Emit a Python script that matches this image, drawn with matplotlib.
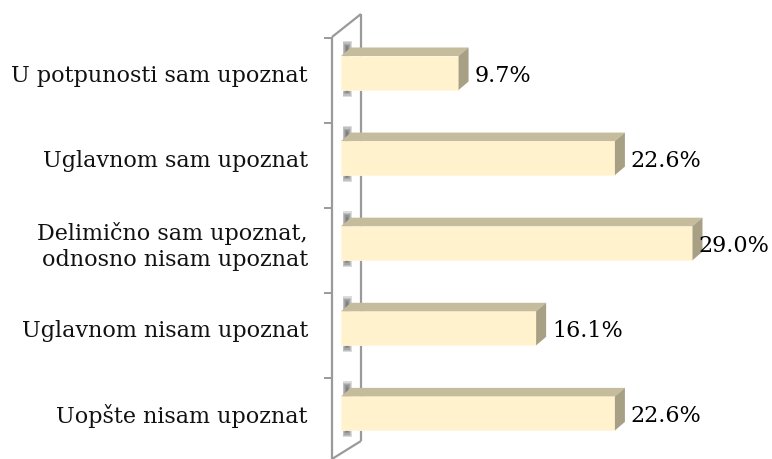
import numpy as np
import matplotlib.pyplot as plt
from matplotlib.patches import Polygon, Rectangle

# data
categories = [
    "U potpunosti sam upoznat",
    "Uglavnom sam upoznat",
    "Delimično sam upoznat,\nodnosno nisam upoznat",
    "Uglavnom nisam upoznat",
    "Uopšte nisam upoznat",
]
values = [9.7, 22.6, 29.0, 16.1, 22.6]
value_labels = ["9.7%", "22.6%", "29.0%", "16.1%", "22.6%"]

W, H = 772, 460
PX = 12.12        # pixels per percent
X0 = 341          # pixel of 0%
PY = 85.1         # pixels per category
Y0 = 74           # pixel of first bar centre

FRONT = "#FFF2CC"
TOP = "#C5BB9D"
SIDE = "#A8A085"
WALL = "#9A9A9A"

plt.rcParams['font.family'] = ['DejaVu Serif']

fig = plt.figure(figsize=(W / 100, H / 100), dpi=100)
ax = fig.add_axes([0, 0, 1, 1])
ax.set_xlim(-X0 / PX, (W - X0) / PX)
ax.set_ylim((H - Y0) / PY, -Y0 / PY)
ax.axis("off")


def px_x(p):
    return (p - X0) / PX


def px_y(p):
    return (p - Y0) / PY


ypos = np.arange(len(values))
bh = 0.4
dx = 10 / PX
dy = 8.5 / PY

# side wall
wall_pts = [(332, 38), (332, 460)], [(332, 38), (361, 15)], [(361, 15), (361, 442)], [(361, 442), (332, 460)]
for seg in wall_pts:
    ax.plot([px_x(p[0]) for p in seg], [px_y(p[1]) for p in seg], color=WALL, lw=1.6,
            solid_capstyle="butt", zorder=1)
for k in range(len(values)):
    yt = k - 35.5 / PY
    ax.plot([px_x(325), px_x(332)], [yt, yt], color=WALL, lw=1.4, zorder=1)

# soft shadows on the wall
for y in ypos:
    for i in range(6):
        ins = i * 0.9
        ax.add_patch(Rectangle((px_x(342.5 + ins), y - bh / 2 - (15 - 1.5 * ins) / PY),
                               (9 - 2 * ins) / PX, bh + (22 - 3 * ins) / PY,
                               facecolor="#2a2a2a", edgecolor="none", alpha=0.16, zorder=2))

# bars
ax.barh(ypos, values, height=bh, left=0, color=FRONT, edgecolor="#FFF6DD", lw=0.6, zorder=3)
for y, v in zip(ypos, values):
    top = y - bh / 2
    bot = y + bh / 2
    ax.add_patch(Polygon([(0, top), (dx, top - dy), (v + dx, top - dy), (v, top)],
                         closed=True, facecolor=TOP, edgecolor="none", zorder=4))
    ax.add_patch(Polygon([(v, top), (v + dx, top - dy), (v + dx, bot - dy), (v, bot)],
                         closed=True, facecolor=SIDE, edgecolor="none", zorder=4))

# value labels
for y, v, lab in zip(ypos, values, value_labels):
    xl = min(v + 16 / PX, px_x(698))
    ax.text(xl, y + 2 / PY, lab, ha="left", va="center", fontsize=16, color="black", zorder=5)

# category labels
for y, cat in zip(ypos, categories):
    ax.text(px_x(308), y + 2 / PY, cat, ha="right", va="center", fontsize=16,
            color="#111111", linespacing=1.25, zorder=5)

fig.savefig("out.png", dpi=100)
